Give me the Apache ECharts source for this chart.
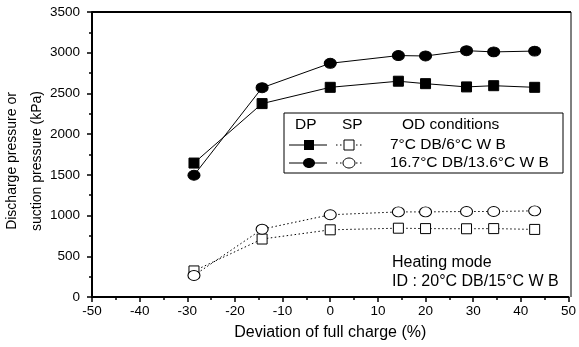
<!DOCTYPE html>
<html>
<head>
<meta charset="utf-8">
<script src="https://cdn.jsdelivr.net/npm/echarts@6/dist/echarts.min.js"></script>
<style>
  html, body { margin: 0; padding: 0; background: #fff; }
  #chart { width: 579px; height: 347px; }
</style>
</head>
<body>
<div id="chart"></div>
<script>
// 数据
var deviation = [-28.6, -14.3, 0, 14.3, 20, 28.6, 34.3, 42.9];
var dp7 = [1645, 2375, 2575, 2650, 2620, 2580, 2595, 2575];
var dp16 = [1495, 2570, 2870, 2965, 2960, 3025, 3010, 3020];
var sp7 = [320, 712, 825, 845, 840, 838, 840, 830];
var sp16 = [265, 833, 1010, 1045, 1045, 1050, 1050, 1058];

function pairs(ys) {
    return deviation.map(function (x, i) { return [x, ys[i]]; });
}

var FONT = 'Liberation Sans, Arial, sans-serif';

var myChart = echarts.init(document.getElementById('chart'));

function series(name, ys, symbol, filled, dotted) {
    return {
        name: name,
        type: 'line',
        data: pairs(ys),
        symbol: symbol === 'rect' ? 'rect' : 'circle',
        symbolSize: symbol === 'rect' ? 10 : [12, 10],
        showSymbol: true,
        animation: false,
        itemStyle: {
            color: filled ? '#000' : '#fff',
            borderColor: '#000',
            borderWidth: 1
        },
        lineStyle: {
            color: '#000',
            width: 1,
            type: dotted ? [1.5, 2.5] : 'solid'
        },
        z: 3
    };
}

var option = {
    backgroundColor: '#fff',
    grid: { left: 92, top: 12, right: 8, bottom: 50 },
    xAxis: {
        type: 'value',
        min: -50, max: 50, interval: 10,
        name: 'Deviation of full charge (%)',
        nameLocation: 'middle',
        nameGap: 28,
        nameTextStyle: { fontFamily: FONT, fontSize: 16, color: '#000' },
        axisLine: { onZero: false, lineStyle: { color: '#000', width: 2 } },
        axisTick: { inside: false, length: 5, lineStyle: { color: '#000', width: 1.5 } },
        minorTick: { show: true, splitNumber: 2, length: 3, lineStyle: { color: '#000', width: 1.5 } },
        axisLabel: { fontFamily: FONT, fontSize: 13.5, color: '#000', margin: 7 },
        splitLine: { show: false }
    },
    yAxis: {
        type: 'value',
        min: 0, max: 3500, interval: 500,
        axisLine: { onZero: false, lineStyle: { color: '#000', width: 2 } },
        axisTick: { inside: false, length: 5, lineStyle: { color: '#000', width: 1.5 } },
        minorTick: { show: true, splitNumber: 2, length: 3, lineStyle: { color: '#000', width: 1.5 } },
        axisLabel: {
            fontFamily: FONT, fontSize: 13.5, color: '#000', margin: 12,
            formatter: function (v) { return String(v); }
        },
        splitLine: { show: false }
    },
    graphic: [
        // y轴标题
        { type: 'text', x: 12, y: 161, rotation: Math.PI / 2,
          style: { text: 'Discharge pressure or', font: '14px ' + FONT, fill: '#000', align: 'center', verticalAlign: 'middle' } },
        { type: 'text', x: 37, y: 161, rotation: Math.PI / 2,
          style: { text: 'suction pressure (kPa)', font: '14px ' + FONT, fill: '#000', align: 'center', verticalAlign: 'middle' } },
        // 上边框和右边框
        { type: 'line', shape: { x1: 92, y1: 12, x2: 571, y2: 12 }, style: { stroke: '#000', lineWidth: 2 }, z: 5 },
        { type: 'line', shape: { x1: 571, y1: 12, x2: 571, y2: 297 }, style: { stroke: '#000', lineWidth: 1 }, z: 5 },
        // 图例框
        { type: 'rect', shape: { x: 284, y: 113, width: 279, height: 60 }, style: { fill: '#fff', stroke: '#000', lineWidth: 1 }, z: 6 },
        { type: 'text', x: 295, y: 125, style: { text: 'DP', font: '15.5px ' + FONT, fill: '#000', verticalAlign: 'middle' }, z: 7 },
        { type: 'text', x: 342, y: 125, style: { text: 'SP', font: '15.5px ' + FONT, fill: '#000', verticalAlign: 'middle' }, z: 7 },
        { type: 'text', x: 402, y: 125, style: { text: 'OD conditions', font: '15.5px ' + FONT, fill: '#000', verticalAlign: 'middle' }, z: 7 },
        // 第一行
        { type: 'line', shape: { x1: 289, y1: 145, x2: 327, y2: 145 }, style: { stroke: '#000', lineWidth: 1 }, z: 7 },
        { type: 'rect', shape: { x: 304, y: 140, width: 10, height: 10 }, style: { fill: '#000' }, z: 8 },
        { type: 'line', shape: { x1: 336, y1: 145, x2: 362, y2: 145 }, style: { stroke: '#000', lineWidth: 1, lineDash: [1.5, 2.5] }, z: 7 },
        { type: 'rect', shape: { x: 344, y: 140, width: 10, height: 10 }, style: { fill: '#fff', stroke: '#000', lineWidth: 1 }, z: 8 },
        { type: 'text', x: 390, y: 145, style: { text: '7°C DB/6°C W B', font: '15.5px ' + FONT, fill: '#000', verticalAlign: 'middle' }, z: 7 },
        // 第二行
        { type: 'line', shape: { x1: 289, y1: 163, x2: 327, y2: 163 }, style: { stroke: '#000', lineWidth: 1 }, z: 7 },
        { type: 'ellipse', shape: { cx: 309, cy: 163, rx: 6, ry: 5 }, style: { fill: '#000' }, z: 8 },
        { type: 'line', shape: { x1: 336, y1: 163, x2: 362, y2: 163 }, style: { stroke: '#000', lineWidth: 1, lineDash: [1.5, 2.5] }, z: 7 },
        { type: 'ellipse', shape: { cx: 349, cy: 163, rx: 6, ry: 5 }, style: { fill: '#fff', stroke: '#000', lineWidth: 1 }, z: 8 },
        { type: 'text', x: 390, y: 163, style: { text: '16.7°C DB/13.6°C W B', font: '15.5px ' + FONT, fill: '#000', verticalAlign: 'middle' }, z: 7 },
        // 工况说明
        { type: 'text', x: 392, y: 263, style: { text: 'Heating mode', font: '16px ' + FONT, fill: '#000', verticalAlign: 'middle' }, z: 7 },
        { type: 'text', x: 392, y: 282, style: { text: 'ID : 20°C DB/15°C W B', font: '16px ' + FONT, fill: '#000', verticalAlign: 'middle' }, z: 7 }
    ],
    series: [
        series('DP 7°C DB/6°C WB', dp7, 'rect', true, false),
        series('DP 16.7°C DB/13.6°C WB', dp16, 'circle', true, false),
        series('SP 7°C DB/6°C WB', sp7, 'rect', false, true),
        series('SP 16.7°C DB/13.6°C WB', sp16, 'circle', false, true)
    ]
};

myChart.setOption(option);
</script>
</body>
</html>
